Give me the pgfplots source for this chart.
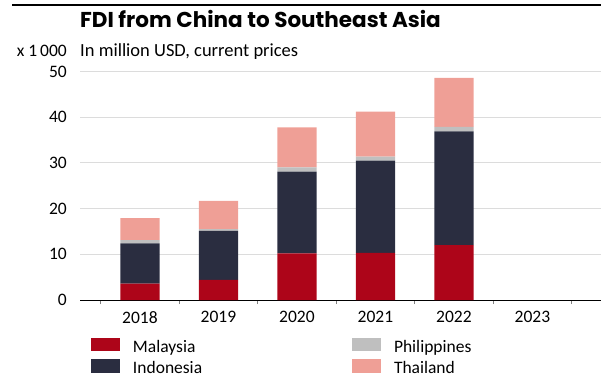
\documentclass[border=0pt]{standalone}
\usepackage{pgfplots}
\pgfplotsset{compat=1.18}
\usepackage{fontspec}
\setmainfont{Carlito}
\newfontfamily\titlefont{Poppins}
\definecolor{cMY}{HTML}{AD0519}
\definecolor{cID}{HTML}{2A2D40}
\definecolor{cPH}{HTML}{BFBFBF}
\definecolor{cTH}{HTML}{EF9F96}
\definecolor{cGrid}{HTML}{DCDCDC}
\begin{document}
\begin{tikzpicture}[x=1bp,y=1bp]
\useasboundingbox (0,0) rectangle (601,377);
\draw[line width=1.5bp] (12,372) -- (601,372);
\node[anchor=base west, inner sep=0pt, font=\titlefont\bfseries\fontsize{21.5bp}{26bp}\selectfont] at (80,349.5) {FDI from China to Southeast Asia};
\node[anchor=base west, inner sep=0pt, font=\fontsize{18.5bp}{22bp}\selectfont] at (80,320.5) {In million USD, current prices};
\node[anchor=base east, inner sep=0pt, font=\fontsize{17.5bp}{22bp}\selectfont] at (67,320.5) {x 1\,000};
\begin{axis}[
  at={(80bp,77bp)}, anchor=south west,
  scale only axis, width=521bp, height=228.5bp,
  xmin=-0.764, xmax=5.874, ymin=0, ymax=50,
  ybar stacked, bar width=0.5,
  axis x line*=bottom, axis y line*=left,
  x axis line style={-, black, line width=0.9bp},
  y axis line style={draw=none},
  xtick={0,1,2,3,4,5},
  xticklabels={2018,2019,2020,2021,2022,2023},
  minor xtick={-0.5,0.5,1.5,2.5,3.5,4.5,5.5},
  ytick={0,10,20,30,40,50},
  major tick length=0pt, minor tick length=4bp,
  tick align=outside,
  minor x tick style={draw=gray, line width=0.9bp},
  ytick style={draw=none},
  ymajorgrids=true, xmajorgrids=false,
  grid style={draw=cGrid, line width=0.9bp},
  /pgf/number format/assume math mode=true,
  ticklabel style={font=\fontsize{17.5bp}{20bp}\selectfont, inner sep=0pt},
  yticklabel style={anchor=east, xshift=-13bp},
  xticklabel style={anchor=north, yshift=-11bp},
  legend style={at={(0.0211,-0.166)}, anchor=north west, draw=none, fill=none,
    inner sep=0pt, outer sep=0pt, row sep=3bp,
    nodes={inner sep=0pt, font=\fontsize{17.5bp}{20bp}\selectfont, text height=12bp, text depth=4bp},
    /tikz/every odd column/.append style={column sep=13bp}},
  legend columns=2, transpose legend,
  legend image code/.code={\fill[#1] (0bp,-3bp) rectangle (29bp,10.5bp);},
  every axis plot/.append style={draw=none},
]
\addplot[fill=cMY] coordinates {(0,3.6) (1,4.4) (2,10.2) (3,10.3) (4,12.0)};
\addlegendentry{\makebox[219bp][l]{Malaysia}}
\addplot[fill=cID] coordinates {(0,8.8) (1,10.7) (2,17.9) (3,20.2) (4,24.9)};
\addlegendentry{\makebox[219bp][l]{Indonesia}}
\addplot[fill=cPH] coordinates {(0,0.7) (1,0.4) (2,0.9) (3,0.9) (4,1.0)};
\addlegendentry{\makebox[219bp][l]{Philippines}}
\addplot[fill=cTH] coordinates {(0,4.8) (1,6.2) (2,8.8) (3,9.8) (4,10.7)};
\addlegendentry{\makebox[219bp][l]{Thailand}}
\end{axis}
\end{tikzpicture}
\end{document}
